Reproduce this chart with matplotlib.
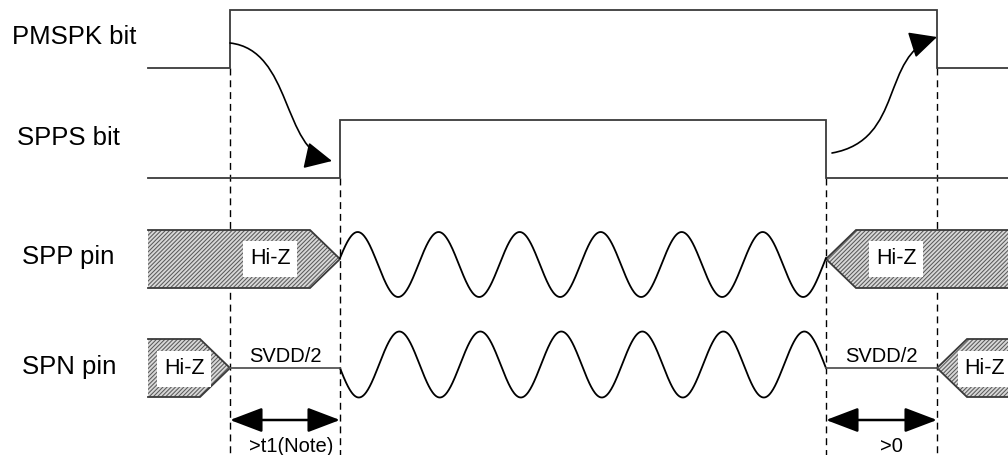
import numpy as np
import matplotlib
matplotlib.use("Agg")
import matplotlib.pyplot as plt
from matplotlib.patches import Polygon, FancyArrowPatch
from matplotlib.path import Path

plt.rcParams['font.family'] = ['Liberation Sans', 'DejaVu Sans']
plt.rcParams['hatch.linewidth'] = 0.75

# ---- data (pixel-like diagram coordinates) ----
signal_labels = ["PMSPK bit", "SPPS bit", "SPP pin", "SPN pin"]
label_x = [12, 17, 22, 22]
label_y = [37, 138, 257, 367]

t_left = 148
t_right = 1008
t_pmspk_on = 230
t_spps_on = 340
t_spps_off = 826
t_pmspk_off = 937

pmspk_levels = [68, 10]      # low, high
spps_levels = [178, 120]

spp_mid, spp_half = 259, 29
spn_mid, spn_half = 368, 29
taper = 30

wave_cycles = 6
spp_wave_center, spp_wave_amp, spp_wave_phase = 264.5, 32.5, 0.2
spn_wave_center, spn_wave_amp, spn_wave_phase = 364.5, 33, 0.11

dim_y = 420
dim_labels = [">t1(Note)", ">0"]
dim_label_y = 446
svdd_label = "SVDD/2"
hiz_label = "Hi-Z"

# ---- figure ----
W, H = 1008, 455
fig = plt.figure(figsize=(W / 100, H / 100), dpi=100)
ax = fig.add_axes([0, 0, 1, 1])
ax.set_xlim(0, W)
ax.set_ylim(H, 0)
ax.axis('off')

step_col = '#3a3a3a'
lw_step = 1.3

# step signals
def step(levels, t_on, t_off):
    lo, hi = levels
    xs = [t_left, t_on, t_on, t_off, t_off, t_right]
    ys = [lo, lo, hi, hi, lo, lo]
    ax.plot(xs, ys, color=step_col, lw=lw_step, solid_joinstyle='miter', zorder=3)

step(pmspk_levels, t_pmspk_on, t_pmspk_off)
step(spps_levels, t_spps_on, t_spps_off)

# dashed verticals
for x, y0 in [(t_pmspk_on, pmspk_levels[0]), (t_spps_on, spps_levels[0]),
              (t_spps_off, spps_levels[0]), (t_pmspk_off, pmspk_levels[0])]:
    ax.plot([x, x], [y0, H], color='black', lw=1.0, ls=(0, (5, 3.5)), zorder=1)

# hatched Hi-Z bands
def band(x_start, x_end, tip_x, mid, half, direction):
    if direction > 0:
        body_end = tip_x - taper
        pts = [(x_start, mid - half), (body_end, mid - half), (tip_x, mid),
               (body_end, mid + half), (x_start, mid + half)]
    else:
        body_start = tip_x + taper
        pts = [(x_end, mid - half), (body_start, mid - half), (tip_x, mid),
               (body_start, mid + half), (x_end, mid + half)]
    ax.add_patch(Polygon(pts, closed=True, facecolor='#d8d8d8', edgecolor='#5a5a5a',
                         hatch='////////', lw=0, zorder=2))
    ox, oy = zip(*pts)
    ax.plot(ox, oy, color=step_col, lw=lw_step, zorder=3, solid_joinstyle='miter')

band(t_left, None, t_spps_on, spp_mid, spp_half, +1)
band(None, t_right, t_spps_off, spp_mid, spp_half, -1)
band(t_left, None, t_pmspk_on, spn_mid, spn_half, +1)
band(None, t_right, t_pmspk_off, spn_mid, spn_half, -1)

# Hi-Z text labels with white boxes
hiz_pos = [(270, 259), (896, 259), (184, 369), (985, 369)]
for (x, y) in hiz_pos:
    ax.text(x, y, hiz_label, fontsize=15.5, ha='center', va='center', zorder=5,
            bbox=dict(boxstyle='square,pad=0.33', fc='white', ec='none'))

# waves
xw = np.linspace(t_spps_on, t_spps_off, 800)
ph = 2 * np.pi * wave_cycles * (xw - t_spps_on) / (t_spps_off - t_spps_on)
ax.plot(xw, spp_wave_center - spp_wave_amp * np.sin(ph + spp_wave_phase),
        color='black', lw=1.3, zorder=3)
ax.plot(xw, spn_wave_center + spn_wave_amp * np.sin(ph + spn_wave_phase),
        color='black', lw=1.3, zorder=3)

# SPN flat SVDD/2 segments
ax.plot([t_pmspk_on, t_spps_on], [spn_mid, spn_mid], color='#555555', lw=1.3, zorder=3)
ax.plot([t_spps_off, t_pmspk_off], [spn_mid, spn_mid], color='#555555', lw=1.3, zorder=3)
ax.text((t_pmspk_on + t_spps_on) / 2, 357, svdd_label, fontsize=14.5, ha='center', va='center')
ax.text((t_spps_off + t_pmspk_off) / 2, 357, svdd_label, fontsize=14.5, ha='center', va='center')

# signal labels
for s, x, y in zip(signal_labels, label_x, label_y):
    ax.text(x, y, s, fontsize=18.5, ha='left', va='center')

# curved causal arrows
p1 = Path([(230, 43), (292, 50), (282, 150), (332, 161)],
          [Path.MOVETO, Path.CURVE4, Path.CURVE4, Path.CURVE4])
p2 = Path([(832, 153), (905, 140), (880, 55), (937, 37)],
          [Path.MOVETO, Path.CURVE4, Path.CURVE4, Path.CURVE4])
for p in (p1, p2):
    ax.add_patch(FancyArrowPatch(path=p, arrowstyle='-|>,head_length=0.85,head_width=0.42',
                                 mutation_scale=20, color='black', lw=1.2, zorder=4))

# dimension arrows
for (a, b), lab in zip([(t_pmspk_on, t_spps_on), (t_spps_off, t_pmspk_off)], dim_labels):
    ax.annotate('', xy=(b, dim_y), xytext=(a, dim_y),
                arrowprops=dict(arrowstyle='<|-|>,head_length=1.0,head_width=0.38',
                                mutation_scale=20, color='black', lw=1.8,
                                shrinkA=0, shrinkB=0), zorder=4)
    cx = (a + b) / 2 + (6 if lab.startswith('>t') else 10)
    ax.text(cx, dim_label_y, lab, fontsize=14.5, ha='center', va='center')

fig.savefig('out.png', dpi=100)
